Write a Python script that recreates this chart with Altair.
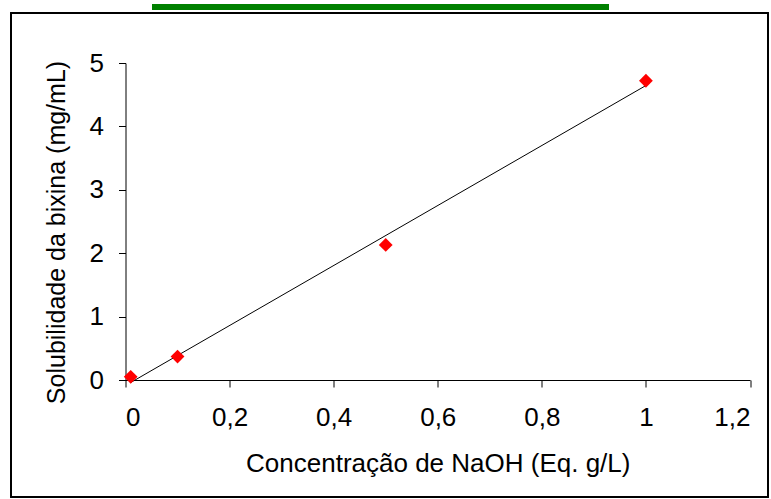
import altair as alt
import pandas as pd

# Data
naoh = [0.01, 0.1, 0.5, 1.0]
solubilidade = [0.05, 0.37, 2.13, 4.72]
x_ticks = [0, 0.2, 0.4, 0.6, 0.8, 1.0, 1.2]
y_ticks = [0, 1, 2, 3, 4, 5]

df = pd.DataFrame({"x": naoh, "y": solubilidade})

FONT = "Liberation Sans"
LABEL_SIZE = 26
TITLE_SIZE = 26

W = 624.5
H = 317
PAD_L = 125.5
PAD_T = 63

label_expr = "replace(format(datum.value, '~g'), '.', ',')"

xenc = alt.X(
    "x:Q",
    scale=alt.Scale(domain=[0, 1.2], nice=False, zero=False),
    axis=alt.Axis(
        values=x_ticks, labelExpr=label_expr, grid=False, tickSize=7,
        domainColor="black", tickColor="black", labelColor="black",
        labelFont=FONT, labelFontSize=LABEL_SIZE, labelPadding=17,
        title="Concentração de NaOH (Eq. g/L)", titleFont=FONT,
        titleFontSize=TITLE_SIZE, titleFontWeight="normal", titleColor="black",
        titlePadding=20,
    ),
)
yenc = alt.Y(
    "y:Q",
    scale=alt.Scale(domain=[0, 5], nice=False),
    axis=alt.Axis(
        values=y_ticks, grid=False, tickSize=7,
        domainColor="black", tickColor="black", labelColor="black",
        labelFont=FONT, labelFontSize=LABEL_SIZE, labelPadding=15,
        title="Solubilidade da bixina (mg/mL)", titleFont=FONT,
        titleFontSize=25, titleFontWeight="normal", titleColor="black",
        titlePadding=20, titleY=169,
    ),
)

base = alt.Chart(df)

trend = base.transform_regression("x", "y").mark_line(
    color="black", strokeWidth=1
).encode(x=xenc, y=yenc)

points = base.mark_point(
    shape="diamond", filled=True, color="#FF0000", size=190, opacity=1
).encode(x=xenc, y=yenc)

border = base.mark_rect(
    fill=None, stroke="black", strokeWidth=1.5
).encode(
    x=alt.value(11 - PAD_L), x2=alt.value(768 - PAD_L),
    y=alt.value(13 - PAD_T), y2=alt.value(497 - PAD_T),
)

green = base.mark_rect(color="#008000").encode(
    x=alt.value(152 - PAD_L), x2=alt.value(609 - PAD_L),
    y=alt.value(4 - PAD_T), y2=alt.value(10 - PAD_T),
)

chart = alt.layer(border, green, trend, points).properties(
    width=W, height=H,
    autosize=alt.AutoSizeParams(type="none"),
    padding={"left": PAD_L, "top": PAD_T, "right": 771 - PAD_L - W, "bottom": 499 - PAD_T - H},
).configure(background="white", view=alt.ViewConfig(stroke=None))

chart.save("out.html", embed_options={"renderer": "svg", "actions": False})
